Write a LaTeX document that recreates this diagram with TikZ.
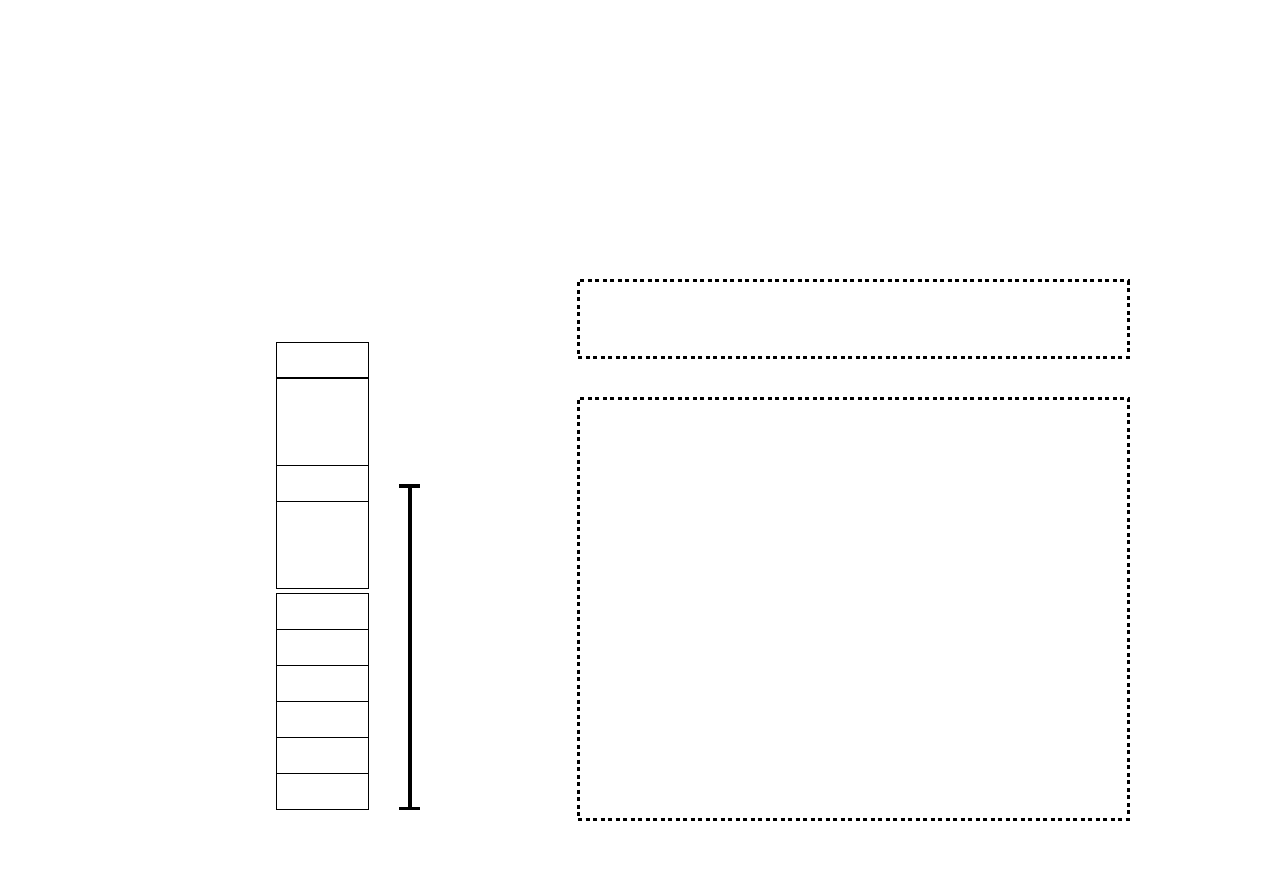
\documentclass[tikz,border=0pt]{standalone}
\begin{document}
\begin{tikzpicture}[x=1pt,y=-1pt,
  cell/.style={draw=black,line width=1pt,rectangle,inner sep=0pt,outer sep=0pt,minimum width=92pt},
  dotbox/.style={draw=black,line width=3pt,dash pattern=on 4pt off 3.5pt,rectangle,inner sep=0pt,outer sep=0pt,minimum width=550pt},
  barline/.style={line width=4pt},
  barcap/.style={line width=3.5pt}]
\useasboundingbox (0,0) rectangle (1263,893);
% stack
\node[cell,minimum height=35.7pt] (c1) at (322.5,360.15) {};
\node[cell,minimum height=87.3pt] (c2) at (322.5,421.65) {};
\node[cell,minimum height=36pt] (c3) at (322.5,483.3) {};
\node[cell,minimum height=86.7pt] (c4) at (322.5,544.65) {};
\node[cell,minimum height=36pt] (c5) at (322.5,611.3) {};
\node[cell,minimum height=36pt] (c6) at (322.5,647.3) {};
\node[cell,minimum height=36pt] (c7) at (322.5,683.3) {};
\node[cell,minimum height=36pt] (c8) at (322.5,719.3) {};
\node[cell,minimum height=36pt] (c9) at (322.5,755.3) {};
\node[cell,minimum height=36pt] (c10) at (322.5,791.3) {};
\draw[line width=2pt] (c1.south west) -- (c1.south east);
% bracket
\coordinate (bt) at (410,486);
\coordinate (bb) at (410,808.5);
\draw[barline] (bt) -- (bb);
\draw[barcap] ([xshift=-11pt]bt) -- ([xshift=10pt]bt);
\draw[barcap] ([xshift=-11pt]bb) -- ([xshift=10pt]bb);
% dotted boxes
\node[dotbox,minimum height=76pt] (da) at (853,319) {};
\node[dotbox,minimum height=421pt] (db) at (853,608.5) {};
\end{tikzpicture}
\end{document}
